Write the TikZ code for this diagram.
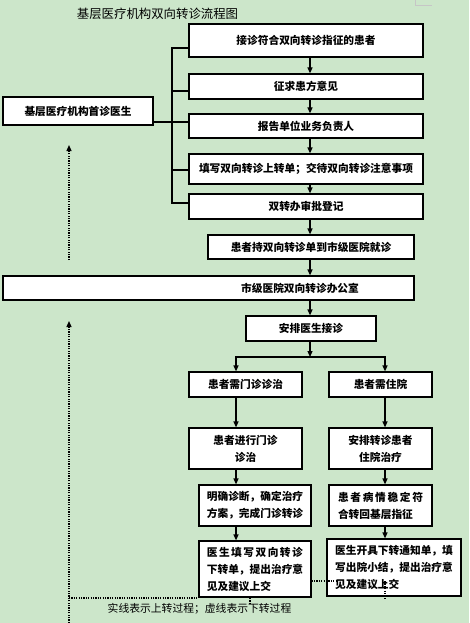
\documentclass[tikz,border=0pt]{standalone}
\usepackage{fontspec}
\setmainfont{Noto Sans CJK SC}
\usetikzlibrary{arrows.meta}
\definecolor{bgc}{RGB}{204,230,202}
\tikzset{
  box/.style={draw=black, line width=1.2pt, fill=white, inner sep=0pt,
     font=\fontsize{10.7}{17}\selectfont\bfseries},
  line/.style={draw=black, line width=1.2pt},
  arr/.style={line, -{Triangle[length=6pt,width=5pt]}},
  bar/.style={draw=black, line width=2pt},
  dotl/.style={draw=black, line width=1.3pt, dash pattern=on 1.2pt off 1.2pt},
  dotarr/.style={dotl, -{Triangle[length=6pt,width=5pt]}},
}
\begin{document}
\begin{tikzpicture}[x=1pt,y=-1pt]
\fill[bgc] (0,0) rectangle (469,623);
\useasboundingbox (0,0) rectangle (469,623);
\draw[gray!45, line width=0.8pt] (415,0) -- (415,5) -- (432,5);

\node[font=\fontsize{12.4}{14}\selectfont] (title) at (157.5,14) {基层医疗机构双向转诊流程图};

% main column
\node[box, minimum width=234pt, minimum height=33pt] (b1) at (306,40.5) {接诊符合双向转诊指征的患者};
\node[box, minimum width=234pt, minimum height=25pt] (b2) at (306,86.5) {征求患方意见};
\node[box, minimum width=234pt, minimum height=24pt] (b3) at (306,126) {报告单位业务负责人};
\node[box, minimum width=234pt, minimum height=30pt] (b4) at (306,169) {填写双向转诊上转单；交待双向转诊注意事项};
\node[box, minimum width=234pt, minimum height=25pt] (b5) at (306,206.5) {双转办审批登记};
\node[box, minimum width=206pt, minimum height=24pt] (b6) at (311,247) {患者持双向转诊单到市级医院就诊};
\node[box, minimum width=411pt, minimum height=24pt] (b7) at (208.5,288) {\hspace*{183pt}市级医院双向转诊办公室};
\node[box, minimum width=130pt, minimum height=25pt] (b8) at (311,328.5) {安排医生接诊};

\node[box, minimum width=150pt, minimum height=28pt] (bl) at (78,111) {基层医疗机构首诊医生};

% branches
\node[box, minimum width=113pt, minimum height=25pt] (l1) at (245.5,384.5) {患者需门诊诊治};
\node[box, minimum width=103pt, minimum height=25pt] (r1) at (380.5,384.5) {患者需住院};
\node[box, minimum width=113pt, minimum height=41pt, align=center] (l2) at (245.5,448.5) {患者进行门诊\\诊治};
\node[box, minimum width=103pt, minimum height=41pt, align=center] (r2) at (380.5,448.5) {安排转诊患者\\住院治疗};
\node[box, minimum width=112pt, minimum height=41pt, align=left] (l3) at (255,505.5) {明确诊断，确定治疗\\方案，完成门诊转诊};
\node[box, minimum width=103pt, minimum height=41pt, align=left] (r3) at (380.5,505.5)
  {\makebox[85pt][s]{患\hfill 者\hfill 病\hfill 情\hfill 稳\hfill 定\hfill 符}\\合转回基层指征};
\node[box, minimum width=112pt, minimum height=56pt, align=left] (l4) at (255,569)
  {\makebox[96pt][s]{医\hfill 生\hfill 填\hfill 写\hfill 双\hfill 向\hfill 转\hfill 诊}\\下转单，提出治疗意\\见及建议上交};
\node[box, minimum width=134pt, minimum height=57pt, align=left] (r4) at (394,567.5)
  {医生开具下转通知单，填\\写出院小结，提出治疗意\\见及建议上交};

% arrows main column
\coordinate (ax) at (310,0);
\draw[arr] (b1.south -| ax) -- (b2.north -| ax);
\draw[arr] (b2.south -| ax) -- (b3.north -| ax);
\draw[arr] (b3.south -| ax) -- (b4.north -| ax);
\draw[arr] (b4.south -| ax) -- (b5.north -| ax);
\draw[arr] (b5.south -| ax) -- (b6.north -| ax);
\draw[arr] (b6.south -| ax) -- (b7.north -| ax);
\draw[arr] (b7.south -| ax) -- (b8.north -| ax);

% bracket
\coordinate (sp) at (172,0);
\coordinate (y1) at (0,48);
\coordinate (y2) at (0,91);
\coordinate (y3) at (0,122);
\coordinate (y4) at (0,170);
\coordinate (y5) at (0,203);
\draw[line] (b1.west |- y1) -- (sp |- y1) -- (sp |- y5) -- (b5.west |- y5);
\draw[line] (b2.west |- y2) -- (sp |- y2);
\draw[line] (b3.west |- y3) -- (sp |- y3);
\draw[line] (b4.west |- y4) -- (sp |- y4);
\draw[line] (bl.east |- y3) -- (sp |- y3);

% split
\coordinate (lx) at (236,0);
\coordinate (rx) at (385,0);
\coordinate (by) at (0,357);
\draw[arr] (b8.south -| ax) -- (ax |- by);
\draw[bar] ([xshift=-1pt]lx |- by) -- ([xshift=1pt]rx |- by);
\draw[arr] (lx |- by) -- (l1.north -| lx);
\draw[arr] (rx |- by) -- (r1.north -| rx);
\draw[arr] (l1.south -| lx) -- (l2.north -| lx);
\draw[arr] (r1.south -| rx) -- (r2.north -| rx);
\draw[arr] (l2.south -| lx) -- (l3.north -| lx);
\draw[arr] (r2.south -| rx) -- (r3.north -| rx);
\draw[arr] (l3.south -| lx) -- (l4.north -| lx);
\draw[arr] (r3.south -| rx) -- (r4.north -| rx);

% dotted (down-referral)
\coordinate (dx) at (69,0);
\draw[dotarr] (dx |- 0,260) -- (dx |- 0,145);
\draw[dotarr] (dx |- 0,623) -- (dx |- 0,321);
\draw[dotl] (dx |- 0,598) -- (l4.west |- 0,598);
\draw[dotl] (250,598) -- (250,605);
\draw[dotl] (l4.east |- 0,581) -- (337,581);
\draw[dotl] (rx |- 0,581) -- (rx |- 0,599);

\node[font=\fontsize{10.8}{13}\selectfont] (legend) at (199.5,609) {实线表示上转过程；虚线表示下转过程};
\end{tikzpicture}
\end{document}
